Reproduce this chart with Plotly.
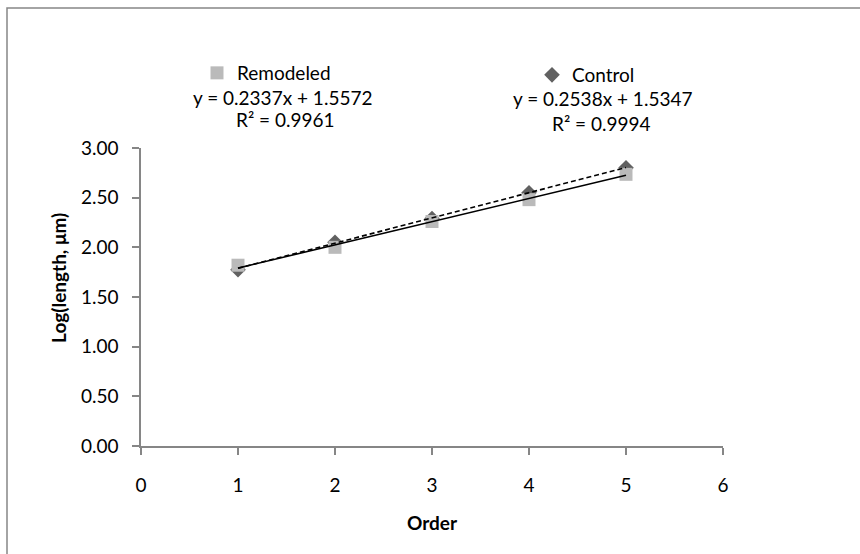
import plotly.graph_objects as go

# Branching order vs. log segment length
orders = [1, 2, 3, 4, 5]
remodeled = [1.82, 2.00, 2.26, 2.48, 2.735]
control = [1.775, 2.05, 2.29, 2.55, 2.80]

# Linear trendline coefficients (Remodeled, Control)
series_names = ["Remodeled", "Control"]
fit_slope = [0.2337, 0.2538]
fit_intercept = [1.5572, 1.5347]
fit_r2 = [0.9961, 0.9994]

x_ticks = [0, 1, 2, 3, 4, 5, 6]
y_ticks = [0.0, 0.5, 1.0, 1.5, 2.0, 2.5, 3.0]

FONT = "Lato, Carlito, Calibri, sans-serif"
FS = 19
AXIS_GRAY = "#868686"

W, H = 860, 554
L, R, T, B = 141, 137, 148, 108
PW, PH = W - L - R, H - T - B


def px_x(px):
    return (px - L) / PW


def px_y(py):
    return (H - B - py) / PH


fig = go.Figure()

fig.add_trace(go.Scatter(
    x=orders, y=control, mode="markers", name=series_names[1],
    marker=dict(symbol="diamond", size=12, color="#616161", line=dict(width=0)),
    legend="legend2",
))
fig.add_trace(go.Scatter(
    x=orders, y=remodeled, mode="markers", name=series_names[0],
    marker=dict(symbol="square", size=13, color="#BABABA", line=dict(width=0)),
    legend="legend",
))

# Trendlines drawn from the fitted coefficients over the data range
x0, x1 = min(orders), max(orders)
for i, dash in zip(range(2), ["solid", "5px,3px"]):
    fig.add_trace(go.Scatter(
        x=[x0, x1],
        y=[fit_slope[i] * x0 + fit_intercept[i], fit_slope[i] * x1 + fit_intercept[i]],
        mode="lines", showlegend=False, hoverinfo="skip",
        line=dict(color="black", width=1.6, dash=dash),
    ))

# Trendline equation labels
label_pos = [
    ((282, 97), (285, 120)),
    ((602, 99), (601, 123)),
]
annotations = []
for i in range(2):
    (ex, ey), (rx, ry) = label_pos[i]
    annotations.append(dict(
        x=px_x(ex), y=px_y(ey), xref="paper", yref="paper",
        text=f"y = {fit_slope[i]:.4f}x + {fit_intercept[i]:.4f}",
        showarrow=False, xanchor="center", yanchor="middle",
        font=dict(family=FONT, size=FS, color="black"),
    ))
    annotations.append(dict(
        x=px_x(rx), y=px_y(ry), xref="paper", yref="paper",
        text=f"R² = {fit_r2[i]:.4f}",
        showarrow=False, xanchor="center", yanchor="middle",
        font=dict(family=FONT, size=FS, color="black"),
    ))

# Axis titles
annotations.append(dict(
    x=px_x(58), y=px_y(278), xref="paper", yref="paper",
    text="<b>Log(length, μm)</b>", textangle=-90, showarrow=False,
    xanchor="center", yanchor="middle",
    font=dict(family=FONT, size=FS, color="black"),
))
annotations.append(dict(
    x=px_x(432), y=px_y(522), xref="paper", yref="paper",
    text="<b>Order</b>", showarrow=False,
    xanchor="center", yanchor="middle",
    font=dict(family=FONT, size=FS, color="black"),
))

# Chart-area frame (extends past the right and bottom edges of the canvas)
shapes = [dict(
    type="rect", xref="paper", yref="paper",
    x0=px_x(7), x1=px_x(W + 60), y0=px_y(H + 40), y1=px_y(8),
    line=dict(color=AXIS_GRAY, width=1.5), fillcolor="rgba(0,0,0,0)", layer="below",
)]

legend_common = dict(
    orientation="h", xanchor="left", yanchor="middle",
    bgcolor="rgba(0,0,0,0)", borderwidth=0,
    font=dict(family=FONT, size=FS, color="black"),
    itemclick=False, itemdoubleclick=False,
)

fig.update_layout(
    width=W, height=H,
    margin=dict(l=L, r=R, t=T, b=B, pad=0),
    paper_bgcolor="white", plot_bgcolor="white",
    font=dict(family=FONT, size=FS, color="black"),
    showlegend=True,
    legend=dict(x=px_x(197), y=px_y(73), **legend_common),
    legend2=dict(x=px_x(532), y=px_y(75), **legend_common),
    annotations=annotations,
    shapes=shapes,
    xaxis=dict(
        range=[0, 6], tickvals=x_ticks, ticktext=[str(v) for v in x_ticks],
        showgrid=False, zeroline=False,
        showline=True, linecolor=AXIS_GRAY, linewidth=1.5,
        ticks="outside", ticklen=7, tickwidth=1.5, tickcolor=AXIS_GRAY,
        tickfont=dict(family=FONT, size=FS, color="black"),
        ticklabelstandoff=14,
    ),
    yaxis=dict(
        range=[0, 3], tickvals=y_ticks, ticktext=[f"{v:.2f}" for v in y_ticks],
        showgrid=False, zeroline=False,
        showline=True, linecolor=AXIS_GRAY, linewidth=1.5,
        ticks="outside", ticklen=7, tickwidth=1.5, tickcolor=AXIS_GRAY,
        tickfont=dict(family=FONT, size=FS, color="black"),
        ticklabelstandoff=10,
    ),
)

fig.write_html("out.html")
